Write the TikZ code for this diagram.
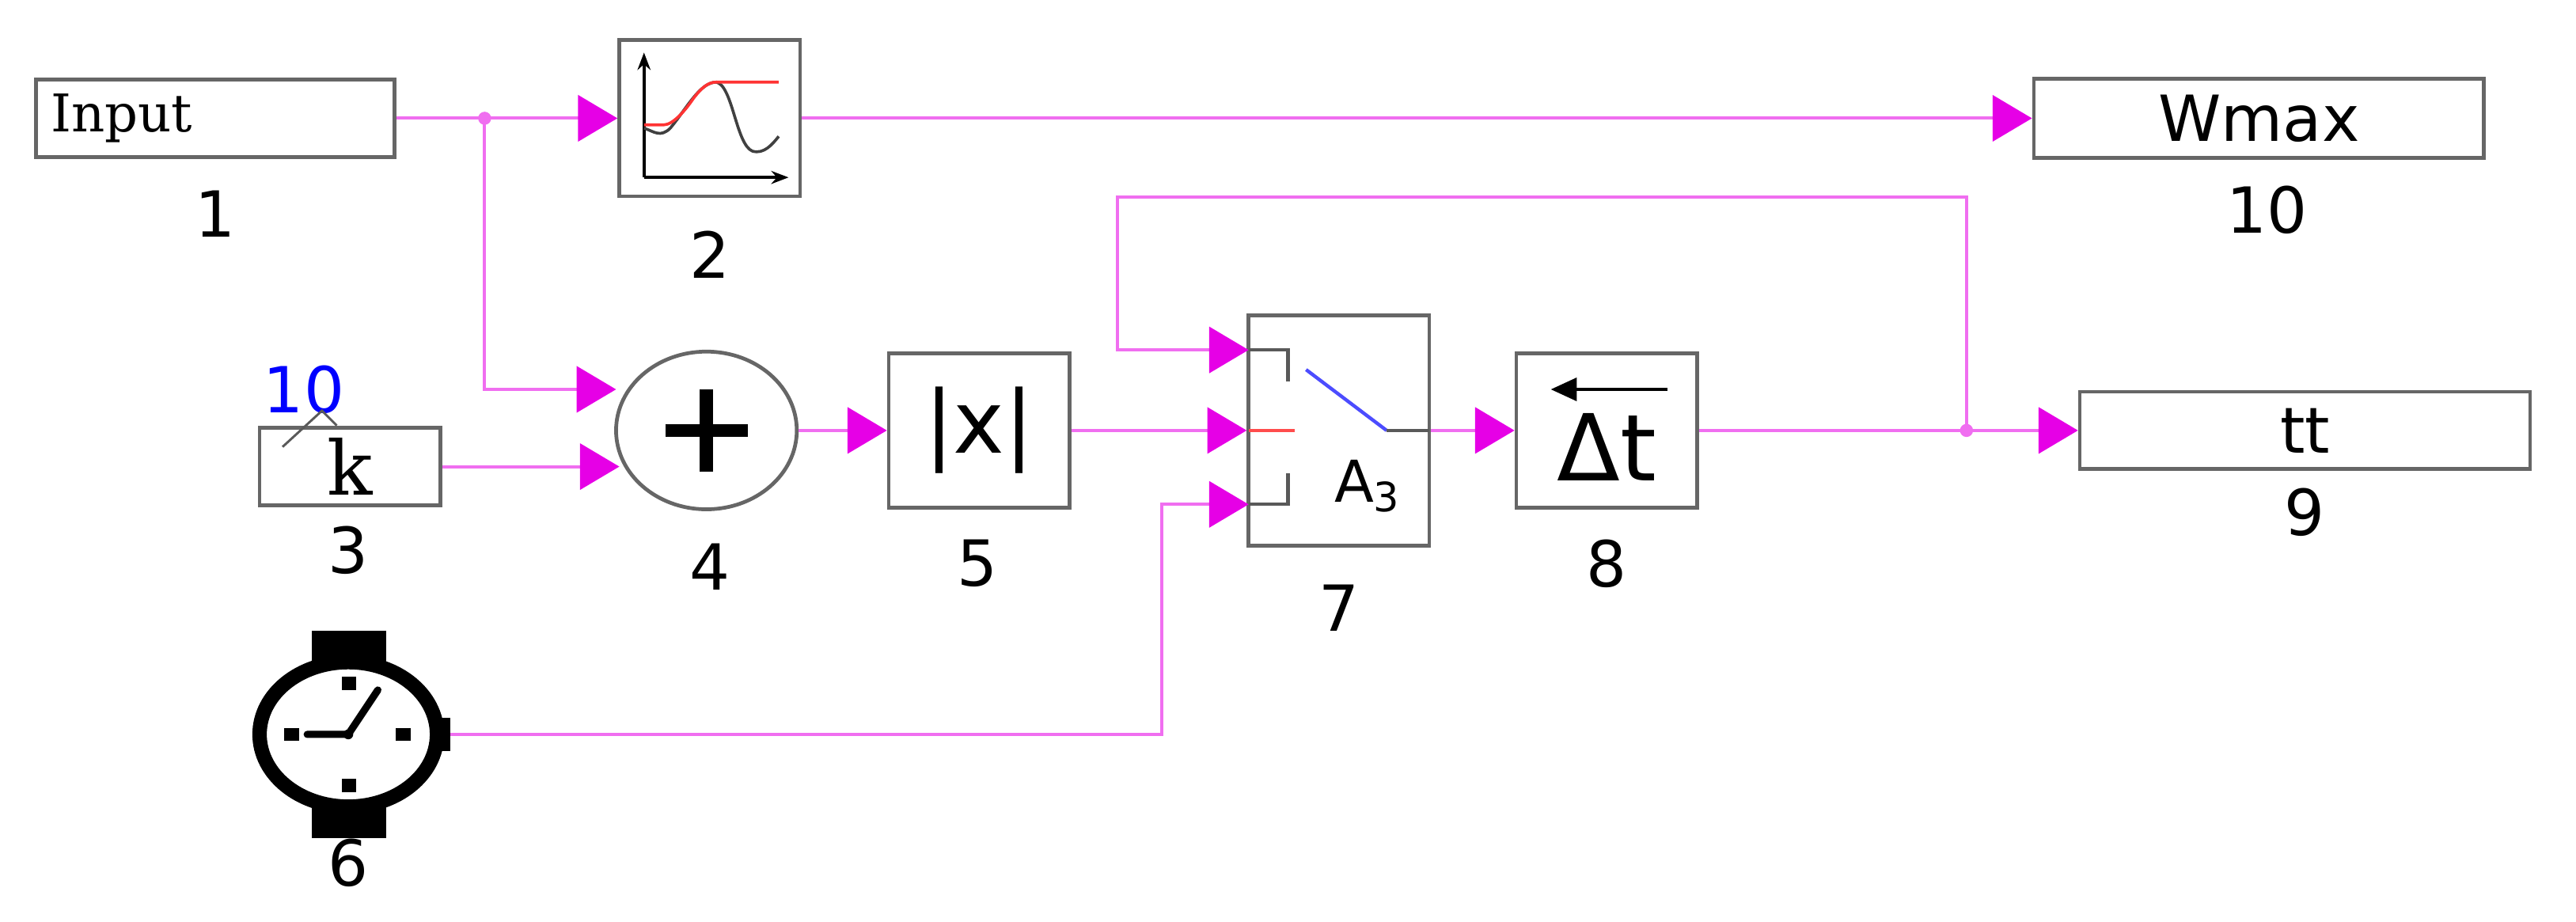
\documentclass[tikz,border=0pt]{standalone}
\usepackage{fontspec}
\setmainfont{DejaVu Serif}
\newfontfamily\sansf{DejaVu Sans}
\usetikzlibrary{arrows.meta,shapes.geometric}
\definecolor{mag}{RGB}{230,0,230}
\definecolor{lmag}{RGB}{240,110,240}
\tikzset{
 blk/.style={draw=gray!80!black,line width=1.3pt,fill=white,inner sep=0pt},
 num/.style={font=\sansf\fontsize{22}{24}\selectfont},
 wire/.style={lmag,line width=1.1pt,-{Triangle[length=0.48cm,width=0.56cm,color=mag]}},
 dot/.style={circle,fill=lmag,inner sep=1.6pt}
}
\begin{document}
\begin{tikzpicture}[x=0.02cm,y=-0.02cm]
\useasboundingbox (0,0) rectangle (1568,561);
% boxes
\node[blk,minimum width=218*0.02cm,minimum height=47*0.02cm,font=\fontsize{18}{20}\selectfont,text width=200*0.02cm,align=left] (in) at (131,72) {Input};
\node[num] (l1) at (131,130) {1};
\node[blk,minimum width=110*0.02cm,minimum height=95*0.02cm] (b2) at (432,72) {};
\node[num] (l2) at (432,155) {2};
\node[blk,minimum width=274*0.02cm,minimum height=48*0.02cm,font=\sansf\fontsize{22}{24}\selectfont] (w) at (1375,72) {Wmax};
\node[num] (l10) at (1380,128) {10};
\node[blk,minimum width=110*0.02cm,minimum height=47*0.02cm,font=\fontsize{26}{28}\selectfont] (k) at (213,284) {k};
\node[num] (l3) at (212,335) {3};
\node[text=blue,font=\sansf\fontsize{22}{24}\selectfont] (kv) at (185,237) {10};
\node[blk,ellipse,minimum width=110*0.02cm,minimum height=96*0.02cm] (sum) at (430,262) {};
\node[num] (l4) at (432,345) {4};
\node[blk,minimum width=110*0.02cm,minimum height=94*0.02cm,font=\sansf\fontsize{30}{32}\selectfont] (abs) at (596,262) {|x|};
\node[num] (l5) at (595,343) {5};
\node[blk,minimum width=110*0.02cm,minimum height=140*0.02cm] (sw) at (815,262) {};
\node[num] (l7) at (815,370) {7};
\node[blk,minimum width=110*0.02cm,minimum height=94*0.02cm] (dt) at (978,262) {};
\node[num] (l8) at (978,343) {8};
\node[blk,minimum width=274*0.02cm,minimum height=47*0.02cm,font=\sansf\fontsize{22}{24}\selectfont] (tt) at (1403,262) {tt};
\node[num] (l9) at (1403,312) {9};
\node[num] (l6) at (212,525) {6};
% k decoration
\draw[gray!70!black,line width=0.8pt] (172,272) -- (196,250) -- (205,259);
% plus
\draw[line width=4.5pt] (405,262) -- (455,262) (430,237) -- (430,287);
% block2 plot
\draw[line width=1pt,-{Stealth[length=6pt]}] (392,108) -- (392,32);
\draw[line width=1pt,-{Stealth[length=6pt]}] (392,108) -- (480,108);
\draw[gray!50!black,line width=1pt] (392,78) .. controls (398,80) and (402,84) .. (408,78) .. controls (418,66) and (426,50) .. (436,50) .. controls (446,52) and (448,88) .. (458,92) .. controls (465,94) and (470,88) .. (474,83);
\draw[red!80,line width=1pt] (392,76) -- (404,76) .. controls (410,76) and (418,66) .. (422,60) .. controls (428,52) and (432,50) .. (436,50) -- (474,50);
% switch 7
\draw[gray!70!black,line width=1.2pt] (760,213) -- (784,213) -- (784,232);
\draw[gray!70!black,line width=1.2pt] (760,307) -- (784,307) -- (784,288);
\draw[red!70,line width=1.2pt] (760,262) -- (788,262);
\draw[blue!70,line width=1.2pt] (795,225) -- (844,262);
\draw[gray!70!black,line width=1.2pt] (844,262) -- (870,262);
\node[font=\sansf\fontsize{20}{22}\selectfont,anchor=west] (a3) at (806,296) {A\textsubscript{3}};
% delta t
\draw[line width=1pt,-{Triangle[length=9pt,width=8pt]}] (1015,237) -- (944,237);
\node[font=\sansf\fontsize{32}{34}\selectfont] (dtt) at (978,272) {Δt};
% clock
\fill (190,384) rectangle (235,410);
\fill (190,484) rectangle (235,510);
\fill (264,437) rectangle (274,457);
\draw[line width=5pt,fill=white] (212,447) ellipse (54 and 44);
\fill (208,412) rectangle (217,420);
\fill (208,474) rectangle (217,482);
\fill (173,443) rectangle (182,451);
\fill (241,443) rectangle (250,451);
\draw[line width=2.5pt,line cap=round] (187,447) -- (212,447) -- (230,420);
\fill (212,447) circle (3);
\coordinate (clk) at (274,447);
% wires
\coordinate (j1) at (295,72);
\coordinate (j2) at (1197,262);
\node[dot] at (j1) {};
\node[dot] at (j2) {};
\draw[wire] (in.east) -- (b2.west);
\draw[wire] (j1) |- (375,237);
\draw[wire] (k.east) -- (377,284);
\draw[wire] (b2.east) -- (w.west);
\draw[wire] (sum.east) -- (abs.west);
\draw[wire] (abs.east) -- (sw.west);
\draw[wire] (sw.east) -- (dt.west);
\draw[wire] (dt.east) -- (tt.west);
\draw[wire] (j2) |- (680,120) |- (760,213);
\draw[wire] (clk) -| (707,307) -- (760,307);
\end{tikzpicture}
\end{document}
